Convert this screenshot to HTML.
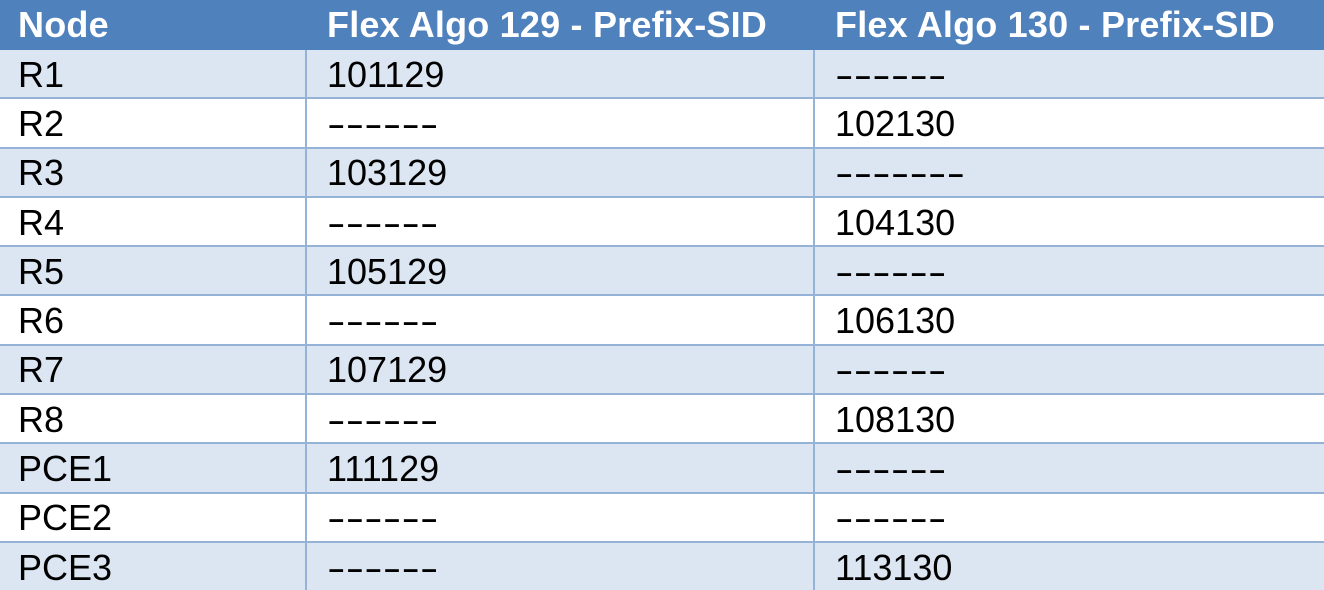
<!DOCTYPE html>
<html><head><meta charset="utf-8"><style>
html,body{margin:0;padding:0;width:1324px;height:590px;overflow:hidden;background:#fff}
table{border-collapse:collapse;width:1324px;table-layout:fixed;font-family:"Liberation Sans",sans-serif}
td,th{height:49.3px;padding:0 0 0 20px;text-align:left;font-size:36px;color:#000;border:2px solid #95B3D7;box-sizing:border-box;white-space:nowrap;overflow:hidden}
th{background:#4F81BD;color:#fff;font-weight:bold;font-size:36px;letter-spacing:0.2px;height:48px;border-color:#4F81BD}
td{padding-top:2px}
tr.odd td{background:#DCE6F2}
tr td:first-child,tr th:first-child{border-left:none;padding-left:18px}
tr td:last-child,tr th:last-child{border-right:none}
.d span{display:inline-block;transform:scaleX(1.55);transform-origin:left center}
</style></head><body>
<table>
<colgroup><col style="width:306px"><col style="width:508px"><col style="width:510px"></colgroup>
<tr><th>Node</th><th>Flex Algo 129 - Prefix-SID</th><th>Flex Algo 130 - Prefix-SID</th></tr>
<tr class="odd"><td>R1</td><td>101129</td><td class="d"><span>------</span></td></tr>
<tr><td>R2</td><td class="d"><span>------</span></td><td>102130</td></tr>
<tr class="odd"><td>R3</td><td>103129</td><td class="d"><span>-------</span></td></tr>
<tr><td>R4</td><td class="d"><span>------</span></td><td>104130</td></tr>
<tr class="odd"><td>R5</td><td>105129</td><td class="d"><span>------</span></td></tr>
<tr><td>R6</td><td class="d"><span>------</span></td><td>106130</td></tr>
<tr class="odd"><td>R7</td><td>107129</td><td class="d"><span>------</span></td></tr>
<tr><td>R8</td><td class="d"><span>------</span></td><td>108130</td></tr>
<tr class="odd"><td>PCE1</td><td>111129</td><td class="d"><span>------</span></td></tr>
<tr><td>PCE2</td><td class="d"><span>------</span></td><td class="d"><span>------</span></td></tr>
<tr class="odd"><td>PCE3</td><td class="d"><span>------</span></td><td>113130</td></tr>
</table>
</body></html>
